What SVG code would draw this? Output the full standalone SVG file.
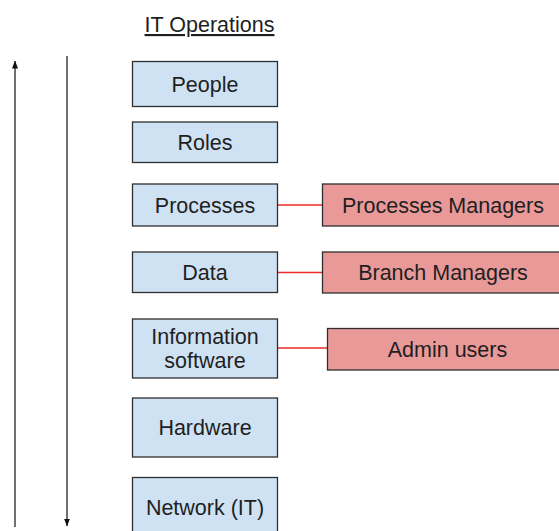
<svg xmlns="http://www.w3.org/2000/svg" width="559" height="531" viewBox="0 0 559 531">
  <style>
    text { font-family: "Liberation Sans", Arial, sans-serif; font-size: 21.5px; fill: #1f1f1f; text-anchor: middle; }
    .layer { fill: #cfe2f3; stroke: #2e2e2e; stroke-width: 1.3; }
    .role { fill: #ea9999; stroke: #2e2e2e; stroke-width: 1.3; }
    .link { stroke: #ee2a2a; stroke-width: 1.3; fill: none; }
    .axis { stroke: #111; stroke-width: 1.2; fill: none; }
  </style>
  <defs>
    <marker id="head" viewBox="0 0 8 8" refX="7.5" refY="4" markerWidth="8" markerHeight="8" markerUnits="userSpaceOnUse" orient="auto">
      <path d="M0,1 L8,4 L0,7 Z" fill="#111"/>
    </marker>
  </defs>

  <!-- heading -->
  <text x="209.5" y="32" style="text-decoration: underline;">IT Operations</text>

  <!-- direction axes and connectors -->
  <g id="connectors">
    <line class="axis" x1="15" y1="527" x2="15" y2="61" marker-end="url(#head)"/>
    <line class="axis" x1="67" y1="56" x2="67" y2="526" marker-end="url(#head)"/>
    <line class="link" x1="278" y1="205" x2="322" y2="205"/>
    <line class="link" x1="278" y1="272.5" x2="322" y2="272.5"/>
    <line class="link" x1="278" y1="348" x2="327" y2="348"/>
  </g>

  <!-- stack layers -->
  <g id="people">
    <rect class="layer" x="132.5" y="61.5" width="145" height="45"/>
    <text x="205" y="91.5">People</text>
  </g>
  <g id="roles">
    <rect class="layer" x="132.5" y="122" width="145" height="40.5"/>
    <text x="205" y="150">Roles</text>
  </g>
  <g id="processes">
    <rect class="layer" x="132.5" y="184" width="145" height="42"/>
    <text x="205" y="212.5">Processes</text>
  </g>
  <g id="data">
    <rect class="layer" x="132.5" y="252" width="145" height="40.5"/>
    <text x="205" y="280">Data</text>
  </g>
  <g id="information-software">
    <rect class="layer" x="132.5" y="319" width="145" height="59"/>
    <text x="205" y="344">Information</text>
    <text x="205" y="368">software</text>
  </g>
  <g id="hardware">
    <rect class="layer" x="132.5" y="398" width="145" height="59"/>
    <text x="205" y="435">Hardware</text>
  </g>
  <g id="network">
    <rect class="layer" x="132.5" y="477.5" width="145" height="60"/>
    <text x="205" y="514.5">Network (IT)</text>
  </g>

  <!-- responsible roles -->
  <g id="processes-managers">
    <rect class="role" x="322.5" y="184" width="241" height="42"/>
    <text x="443" y="212.5">Processes Managers</text>
  </g>
  <g id="branch-managers">
    <rect class="role" x="322.5" y="252" width="241" height="41"/>
    <text x="443" y="280">Branch Managers</text>
  </g>
  <g id="admin-users">
    <rect class="role" x="327.5" y="328.5" width="240" height="41.5"/>
    <text x="447.5" y="356.5">Admin users</text>
  </g>
</svg>
